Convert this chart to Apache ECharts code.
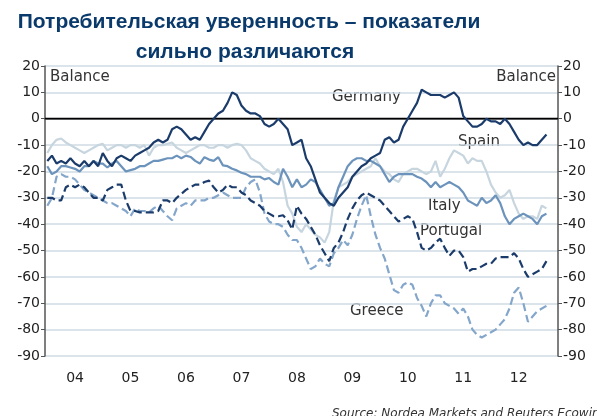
<!DOCTYPE html>
<html>
<head>
<meta charset="utf-8">
<script src="https://cdn.jsdelivr.net/npm/echarts@6/dist/echarts.min.js"></script>
<style>
  html, body { margin: 0; padding: 0; background: #ffffff; }
  #chart { width: 597px; height: 416px; }
</style>
</head>
<body>
<div id="chart"></div>
<script>
// monthly data, Jan 2004 .. Jan 2013 (axis runs to Mar 2013)
const firstYear = 2004;
const monthCount = 111;

const yTicks = [20, 10, 0, -10, -20, -30, -40, -50, -60, -70, -80, -90];

const germany = [-16,-14,-17,-16,-17,-15,-17,-18,-16,-18,-16,-18,
  -13,-16,-18,-15,-14,-15,-16,-14,-13,-12,-11,-9,
  -8,-9,-8,-4,-3,-4,-6,-8,-7,-8,-5,-2,
  0,2,3,6,10,9,5,3,2,2,1,-2,
  -3,-2,0,-2,-4,-10,-9,-8,-15,-18,-23,-28,
  -30,-32,-33,-30,-28,-26,-22,-20,-18,-17,-15,-14,
  -13,-8,-7,-9,-8,-3,0,3,6,11,10,9,
  9,9,8,9,10,8,1,-1,-3,-3,-2,0,
  -1,-1,-2,0,-2,-5,-8,-10,-9,-10,-10,-8,-6];

const spain = [-13,-10,-8,-7.5,-9,-10,-11,-12,-13,-12,-11,-10,
  -9.5,-12,-11,-10,-10,-11,-10,-10,-11,-10,-14,-11,
  -10,-10,-9.5,-9,-11,-12,-13,-12,-11,-10,-10,-11,
  -11,-10,-10,-11,-10,-9.5,-10,-12,-15,-16,-17,-19,
  -20,-21,-19,-24,-33,-36,-41,-43,-40,-42,-44,-45,
  -47,-43,-31,-26,-25,-24,-22,-21,-20,-19,-18,-15,
  -18,-20,-21,-23,-24,-21,-20,-19,-19,-20,-21,-20,
  -16,-22,-19,-15,-12,-13,-14,-17,-15,-16,-16,-20,
  -25,-28,-30,-29,-27,-32,-36,-38,-37,-37,-38,-33,-34];

const italy = [-18,-21,-20,-18,-18,-18.5,-19,-20,-18,-18,-16,-17,
  -17,-18.5,-17,-16,-18,-20,-19.5,-19,-18,-18,-17,-16,
  -16,-15.5,-15,-15,-14,-15,-14,-14.5,-16,-17,-14.6,-15.5,
  -16,-14.6,-17.7,-18,-19,-19.6,-20.5,-21,-22,-22,-22,-23,
  -22.5,-24,-25,-19,-22,-26,-23,-26,-25,-23,-24,-27,
  -30,-33,-32,-26,-22,-18,-16,-15,-15,-16,-16,-17,
  -18,-21,-24,-22,-21,-21,-21,-21,-22,-22.7,-24,-26,
  -24,-26,-25,-24,-25,-26,-28,-31,-32,-33,-30,-32,
  -31,-29,-32,-37,-40,-38,-37,-36,-37,-38,-40,-37,-36];

const portugal = [-30,-30,-31,-31,-26,-25,-26,-25,-26,-28,-30,-30,
  -31,-27,-26,-25,-25,-31,-35,-35,-35.5,-35.5,-35.5,-35.5,
  -35,-31,-31,-32,-30,-28.5,-27,-26,-25,-25,-24,-23.5,
  -26,-28,-27,-25,-26,-26,-28,-29,-31,-32,-33,-35,
  -36,-37,-37,-36.6,-38.5,-42,-33,-36,-38,-41,-44,-48,
  -51,-54,-49,-47,-43,-38,-34,-31,-29,-28,-29,-30,
  -31,-33,-35,-37,-39,-38,-37,-38,-43,-49,-50,-49,
  -47,-45.5,-49,-52,-50,-50,-52.5,-58,-57,-57,-56,-55,
  -55,-53,-52.5,-52.5,-52.5,-51,-53,-57,-60,-59,-58,-57,-54];

const greece = [-33,-30,-22,-21,-22,-22,-23,-25,-27,-28,-29,-30,
  -31,-32,-32,-33,-34,-35,-37,-34,-35,-35,-35.5,-34,
  -33,-35,-37,-38.5,-34,-33,-32,-33,-31,-31,-31,-30,
  -30,-29,-28,-29,-30,-30,-30,-26,-24,-23,-28,-36,
  -39,-40,-40,-41,-44,-46,-46,-49,-53,-57,-56,-53,
  -55,-56,-51,-49,-46,-48,-44,-38,-33,-29,-37,-44,
  -49,-53,-59,-65,-66,-63,-62,-63,-68,-71,-75,-70,
  -67,-67,-70,-71,-72,-74,-72,-75,-80,-82,-83,-82,
  -81,-80,-78,-76,-72,-66,-64,-70,-77,-75,-73,-72,-71];

const months = [];
for (let i = 0; i < monthCount; i++) {
  const y = firstYear + Math.floor(i / 12);
  const m = (i % 12) + 1;
  months.push(y + '-' + (m < 10 ? '0' + m : m));
}

const labelFont = 'DejaVu Sans';
const titleFont = 'bold 21px "Liberation Sans", Arial, sans-serif';
const navy = '#1b3c6b';

function yAxisCfg(pos) {
  return {
    type: 'value',
    position: pos,
    min: -90,
    max: 20,
    interval: 10,
    axisLine: { show: true, lineStyle: { color: '#555', width: 1.5 } },
    axisTick: { show: true, length: 4, lineStyle: { color: '#555' } },
    axisLabel: { color: '#222', fontSize: 14, fontFamily: labelFont, margin: 5 },
    splitLine: { show: pos === 'left', lineStyle: { color: '#cfdbe5', width: 1.5 } }
  };
}

function line(name, data, color, dashed, z) {
  return {
    name: name,
    type: 'line',
    data: data,
    symbol: 'none',
    z: z,
    lineStyle: { color: color, width: 2.2, type: dashed ? [8, 4] : 'solid' },
    animation: false
  };
}

const chart = echarts.init(document.getElementById('chart'));
const seriesList = [
  line('Spain', spain, '#c7d5df', false, 2),
  line('Italy', italy, '#6c93bb', false, 3),
  line('Greece', greece, '#84a6ca', true, 4),
  line('Portugal', portugal, navy, true, 5),
  line('Germany', germany, navy, false, 6)
];
// zero line
seriesList[0].markLine = {
  silent: true,
  symbol: 'none',
  label: { show: false },
  lineStyle: { color: '#000', width: 1.3, type: 'solid' },
  data: [{ yAxis: 0 }]
};

chart.setOption({
  animation: false,
  grid: { left: 45, right: 39, top: 66, bottom: 60 },
  xAxis: {
    type: 'category',
    data: months,
    boundaryGap: true,
    offset: 6,
    axisLine: { lineStyle: { color: '#555', width: 1.5 } },
    axisTick: {
      length: 4,
      lineStyle: { color: '#555' },
      interval: function (i) { return i % 12 === 0; }
    },
    axisLabel: {
      color: '#222',
      fontSize: 14,
      fontFamily: labelFont,
      margin: 9,
      interval: function (i) { return i % 12 === 6; },
      formatter: function (v) { return v.slice(2, 4); }
    },
    splitLine: { show: false }
  },
  yAxis: [yAxisCfg('left'), yAxisCfg('right')],
  series: seriesList,
  graphic: [
    { type: 'text', x: 249, y: 22, style: { text: 'Потребительская уверенность – показатели', fill: '#0a3a6b', font: titleFont, textAlign: 'center', textVerticalAlign: 'middle' } },
    { type: 'text', x: 245, y: 52, style: { text: 'сильно различаются', fill: '#0a3a6b', font: titleFont, textAlign: 'center', textVerticalAlign: 'middle' } },
    { type: 'text', x: 50, y: 77, style: { text: 'Balance', fill: '#333', font: '15px "DejaVu Sans"', textVerticalAlign: 'middle' } },
    { type: 'text', x: 556, y: 77, style: { text: 'Balance', fill: '#333', font: '15px "DejaVu Sans"', textAlign: 'right', textVerticalAlign: 'middle' } },
    { type: 'text', x: 332, y: 97, style: { text: 'Germany', fill: '#333', font: '15px "DejaVu Sans"', textVerticalAlign: 'middle' } },
    { type: 'text', x: 458, y: 142, style: { text: 'Spain', fill: '#333', font: '15px "DejaVu Sans"', textVerticalAlign: 'middle' } },
    { type: 'text', x: 428, y: 206, style: { text: 'Italy', fill: '#333', font: '15px "DejaVu Sans"', textVerticalAlign: 'middle' } },
    { type: 'text', x: 420, y: 231, style: { text: 'Portugal', fill: '#333', font: '15px "DejaVu Sans"', textVerticalAlign: 'middle' } },
    { type: 'text', x: 350, y: 311, style: { text: 'Greece', fill: '#333', font: '15px "DejaVu Sans"', textVerticalAlign: 'middle' } },
    { type: 'text', x: 332, y: 408, style: { text: 'Source: Nordea Markets and Reuters Ecowin', fill: '#333', font: 'italic 12px "DejaVu Sans"' } }
  ]
});
</script>
</body>
</html>
